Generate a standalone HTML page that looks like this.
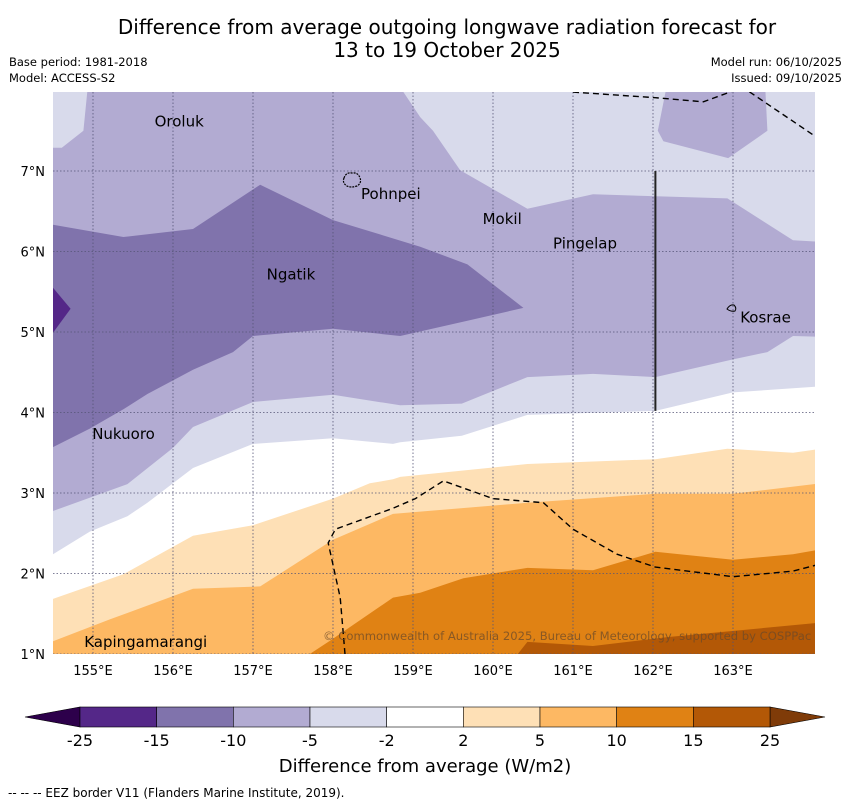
<!DOCTYPE html>
<html><head><meta charset="utf-8">
<style>
body{margin:0;background:#fff;width:850px;height:804px;overflow:hidden;font-family:"DejaVu Sans","Liberation Sans",sans-serif;}
svg text{font-family:"DejaVu Sans","Liberation Sans",sans-serif;}
</style></head>
<body>
<svg id="chart" width="850" height="804" viewBox="0 0 850 804" xmlns="http://www.w3.org/2000/svg">
<defs><clipPath id="mapclip"><rect x="53" y="92" width="762" height="562"/></clipPath></defs>
<text x="447" y="34" font-size="20" text-anchor="middle">Difference from average outgoing longwave radiation forecast for</text>
<text x="447" y="57" font-size="20" text-anchor="middle">13 to 19 October 2025</text>
<text x="9" y="66" font-size="11.5">Base period: 1981-2018</text>
<text x="9" y="82" font-size="11.5">Model: ACCESS-S2</text>
<text x="842" y="66" font-size="11.5" text-anchor="end">Model run: 06/10/2025</text>
<text x="842" y="82" font-size="11.5" text-anchor="end">Issued: 09/10/2025</text>
<g id="map" clip-path="url(#mapclip)"></g>
<g id="axes"></g>
<g id="cbar"></g>
<text x="425" y="772" font-size="18" text-anchor="middle">Difference from average (W/m2)</text>
<text x="8" y="797" font-size="12">--  --  -- EEZ border V11 (Flanders Marine Institute, 2019).</text>
</svg>
<script>
const lonTicks=[155,156,157,158,159,160,161,162,163];
const latTicks=[1,2,3,4,5,6,7];
const levelLabels=["-25","-15","-10","-5","-2","2","5","10","15","25"];
const levelColors=["#542788","#8073ac","#b2abd2","#d8daeb","#ffffff","#fee0b6","#fdb863","#e08214","#b35806"];
const lightAbove=[[154.5,2.24],[154.96,2.52],[155.43,2.71],[155.68,2.88],[156.25,3.31],[157,3.61],[158,3.68],[158.75,3.61],[158.84,3.63],[159.61,3.71],[160.43,3.97],[162.03,4.02],[163,4.25],[164.03,4.32],[164.1,8.1],[154.4,8.1]];
const lavender=[[154.4,7.29],[154.61,7.29],[154.88,7.5],[154.94,8.1],[158.8,8.1],[159.09,7.67],[159.25,7.5],[159.59,7.01],[160.43,6.53],[161.25,6.71],[162.93,6.66],[163.75,6.14],[164.1,6.12],[164.1,4.94],[163.75,4.95],[163.43,4.75],[163.0,4.66],[162.03,4.44],[161.25,4.48],[160.43,4.44],[159.61,4.11],[158.84,4.09],[158.0,4.22],[157.0,4.13],[156.25,3.82],[156.0,3.56],[155.43,3.11],[154.4,2.74]];
const lavenderBlob=[[162.18,8.1],[163.4,8.1],[163.43,7.5],[162.94,7.16],[162.13,7.37],[162.06,7.5]];
const dark=[[154.4,6.35],[155.38,6.18],[156.25,6.28],[157.09,6.83],[158.0,6.39],[159.09,6.06],[159.68,5.84],[160.38,5.3],[159.68,5.14],[158.84,4.95],[158.0,5.04],[157.0,4.95],[156.75,4.75],[156.25,4.53],[155.68,4.23],[155.38,4.04],[154.96,3.8],[154.4,3.52]];
const darkest=[[154.4,5.55],[154.5,5.55],[154.72,5.29],[154.5,4.99],[154.4,4.99]];
const orange2=[[154.4,1.65],[155.38,1.99],[156.25,2.47],[157,2.6],[158,2.93],[158.46,3.12],[158.75,3.17],[158.84,3.2],[160.43,3.36],[162.03,3.42],[162.93,3.55],[163.75,3.5],[164.1,3.55],[164.1,0.9],[154.4,0.9]];
const orange5=[[154.4,1.12],[155.21,1.43],[156.25,1.81],[157.09,1.84],[158,2.42],[158.75,2.74],[160.43,2.88],[162.03,2.99],[163,2.99],[164.1,3.12],[164.1,0.9],[154.4,0.9]];
const orange10=[[157.6,0.9],[157.71,1.0],[158.0,1.19],[158.75,1.7],[159.09,1.76],[159.63,1.94],[160.43,2.07],[161.25,2.04],[162.03,2.27],[163.0,2.17],[163.75,2.24],[164.1,2.3],[164.1,0.9]];
const orange15=[[160.2,0.9],[160.31,1.0],[160.43,1.15],[161.25,1.1],[162.18,1.21],[164.1,1.39],[164.1,0.9]];
const eezTopA=[[161.0,7.98],[162.03,7.91],[162.63,7.86],[162.96,7.98],[163.1,8.05]];
const eezTopB=[[163.1,8.05],[163.21,7.98],[164.0,7.45]];
const eezBottom=[[158.15,1.0],[158.09,1.7],[157.94,2.38],[158.03,2.55],[158.75,2.81],[159.03,2.93],[159.38,3.15],[160.0,2.93],[160.63,2.88],[161.0,2.55],[161.55,2.24],[162.03,2.08],[163.0,1.96],[163.75,2.03],[164.1,2.12]];
const islandNames=["Oroluk","Pohnpei","Mokil","Pingelap","Kosrae","Ngatik","Nukuoro","Kapingamarangi"];
const islandLon=[155.77,158.35,159.87,160.75,163.09,157.17,154.99,154.89];
const islandLat=[7.55,6.65,6.34,6.04,5.12,5.65,3.67,1.09];

const X=lon=>53+(lon-154.5)*80;
const Y=lat=>654-(lat-1)*80.5;
const NS="http://www.w3.org/2000/svg";
function mk(tag,attrs,parent){const e=document.createElementNS(NS,tag);for(const k in attrs)e.setAttribute(k,attrs[k]);parent.appendChild(e);return e;}
const pts=a=>a.map(p=>X(p[0]).toFixed(1)+","+Y(p[1]).toFixed(1)).join(" ");
const map=document.getElementById('map');
let r=mk('rect',{x:53,y:92,width:762,height:562,fill:"#ffffff"},map);


const layers=[[lightAbove,levelColors[3],'band-minus5-minus2'],[lavender,levelColors[2],'band-minus10-minus5'],[lavenderBlob,levelColors[2],'band-minus10-minus5-ne'],[dark,levelColors[1],'band-minus15-minus10'],[darkest,levelColors[0],'band-minus25-minus15'],[orange2,levelColors[5],'band-2-5'],[orange5,levelColors[6],'band-5-10'],[orange10,levelColors[7],'band-10-15'],[orange15,levelColors[8],'band-15-25']];
layers.forEach(l=>{const p=mk('polygon',{points:pts(l[0]),fill:l[1]},map);

});
lonTicks.forEach(v=>{const g=mk('line',{x1:X(v),x2:X(v),y1:92,y2:654,stroke:"#555577","stroke-width":0.8,"stroke-dasharray":"1.5,2"},map);

});
latTicks.forEach(v=>{const g=mk('line',{x1:53,x2:815,y1:Y(v),y2:Y(v),stroke:"#555577","stroke-width":0.8,"stroke-dasharray":"1.5,2"},map);

});
[eezTopA,eezTopB,eezBottom].forEach(l=>{const e=mk('polyline',{points:pts(l),fill:"none",stroke:"#000","stroke-width":1.4,"stroke-dasharray":"6,4"},map);

});
let vl=mk('line',{x1:X(162.03),x2:X(162.03),y1:Y(7),y2:Y(4.02),stroke:"#222","stroke-width":2},map);


let pohn=mk('path',{d:"M344,178 q2,-6 8,-5 q6,-1 8,5 q2,5 -3,8 q-6,2 -10,0 q-5,-3 -3,-8z",fill:"none",stroke:"#000","stroke-width":1.2,"stroke-dasharray":"2,1"},map);


let kos=mk('path',{d:"M727,309 q3,-5 7,-4 q3,3 1,6 q-4,1 -8,-2z",fill:"none",stroke:"#000","stroke-width":1},map);


islandNames.forEach((n,i)=>{const t=mk('text',{x:X(islandLon[i]),y:Y(islandLat[i]),"font-size":15,fill:"#000"},map);t.textContent=n;

});
let cp=mk('text',{x:323,y:640,"font-size":11.6,fill:"#6b4a2a","fill-opacity":0.75},map);cp.textContent="© Commonwealth of Australia 2025, Bureau of Meteorology, supported by COSPPac";


const axes=document.getElementById('axes');
lonTicks.forEach(v=>{const t=mk('text',{x:X(v),y:675,"font-size":13,"text-anchor":"middle"},axes);t.textContent=v+"°E";

});
latTicks.forEach(v=>{const t=mk('text',{x:45,y:Y(v)+5,"font-size":13,"text-anchor":"end"},axes);t.textContent=v+"°N";

});
const cb=document.getElementById('cbar');
const cx0=80,cw=690,cy=707,ch=20,seg=cw/levelColors.length;
let lt=mk('polygon',{points:`25,717 ${cx0},${cy} ${cx0},${cy+ch}`,fill:"#2d004b",stroke:"#000","stroke-width":0.6},cb);


let rt=mk('polygon',{points:`825,717 ${cx0+cw},${cy} ${cx0+cw},${cy+ch}`,fill:"#7f3b08",stroke:"#000","stroke-width":0.6},cb);


levelColors.forEach((c,i)=>{const s=mk('rect',{x:cx0+i*seg,y:cy,width:seg,height:ch,fill:c,stroke:"#000","stroke-width":0.6},cb);

});
levelLabels.forEach((l,i)=>{const t=mk('text',{x:cx0+i*seg,y:746,"font-size":16,"text-anchor":"middle"},cb);t.textContent=l;

});
</script>
</body></html>
